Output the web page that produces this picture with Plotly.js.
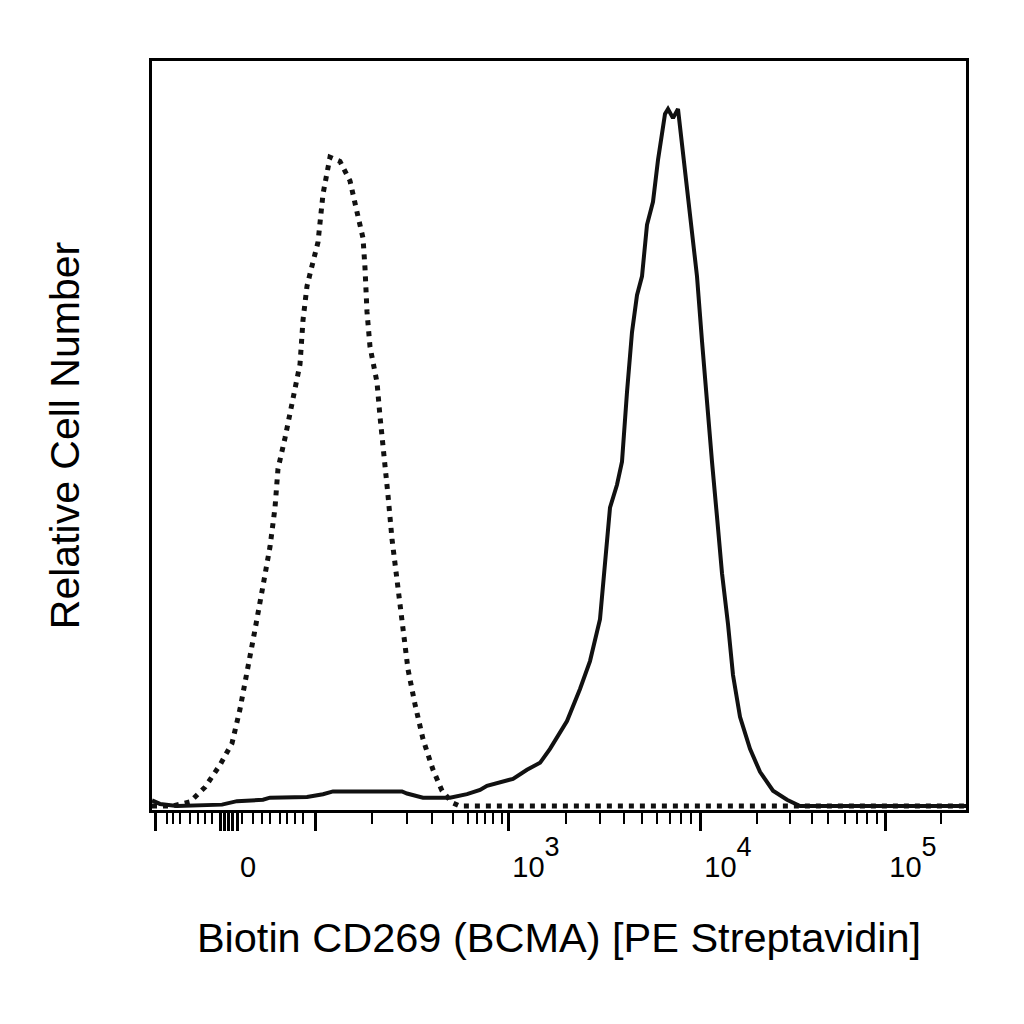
<!DOCTYPE html>
<html>
<head>
<meta charset="utf-8">
<script src="https://cdn.plot.ly/plotly-3.0.1.min.js"></script>
<style>
  html, body { margin: 0; padding: 0; background: #fff; }
  #chart { width: 1024px; height: 1024px; }
</style>
</head>
<body>
<div id="chart"></div>
<script>
// x values are display channels of the biexponential PE axis (0 = left edge of plot)
// y values are relative cell counts, stained peak = 100

// isotype / unstained control (dotted)
const controlX = [0, 20, 38, 53, 68, 80, 88, 95, 103, 111, 118, 123, 126, 133, 141, 148, 151, 155, 160, 166, 171, 178,
    188, 198, 206, 211, 213, 215, 218, 225, 228, 231, 236, 240, 245, 251, 256, 263, 271, 281, 290, 300, 308, 814];
const controlY = [0, 0, 0.6, 2.7, 5.9, 9.0, 13.9, 18.9, 25.3, 31.6, 37.2, 42.8, 48.4, 52.8, 58.4, 63.4, 69.7, 74.6, 77.5, 80.9, 87.8, 93.1,
    92.5, 89.7, 84.6, 81.5, 77.2, 70.9, 65.9, 60.8, 55.9, 50.9, 44.6, 38.3, 32.1, 25.8, 19.6, 14.6, 9.6, 5.2, 2.2, 0.5, 0, 0];

// Biotin CD269 (BCMA) + PE streptavidin (solid)
const stainedX = [0, 8, 25, 70, 85, 111, 118, 155, 171, 181, 250, 255, 271, 298, 315, 328, 335, 361, 375, 388, 398, 415, 428,
    438, 448, 453, 458, 465, 470, 475, 480, 485, 490, 495, 501, 506, 513, 516, 521, 526, 531, 538, 545, 550, 555, 560, 565,
    570, 576, 581, 588, 598, 608, 621, 635, 648, 814];
const stainedY = [0.8, 0.3, 0, 0.2, 0.7, 0.9, 1.2, 1.3, 1.7, 2.1, 2.1, 1.8, 1.2, 1.2, 1.7, 2.3, 2.9, 3.9, 5.2, 6.2, 8.2, 12.2, 16.8,
    20.8, 26.8, 34.7, 42.8, 46.1, 49.4, 59.4, 68.0, 73.3, 76.0, 83.4, 86.7, 92.7, 99.3, 100, 98.7, 100, 94, 85.4, 76, 66.7, 57.4, 49.4, 41.5,
    33.4, 26.1, 18.8, 12.8, 8.2, 4.9, 2.2, 0.9, 0, 0];

// axis ticks (channel positions)
const big = t => '<span style="font-size:29px">' + t + '</span>';
const sup = d => big('10') + '<sup><sup><span style="font-size:27px">' + d + '</span></sup></sup>';
const majorTicks = [3, 68, 72, 76, 80, 85, 163, 356, 548, 733];
const majorLabels = ['', big('0'), '', '', '', '', '', sup(3), sup(4), sup(5)];
const minorTicks = [15, 21, 28, 38, 46, 53, 60, 90, 101, 110, 118, 128, 135, 143, 151,
    220, 255, 280, 301, 316, 325, 333, 341, 350,
    414, 448, 472, 490, 505, 518, 529, 539,
    605, 638, 660, 676, 693, 705, 715, 725, 789];

const fontFam = '"Liberation Sans", Arial, sans-serif';

const traces = [
    {
        x: controlX, y: controlY, type: 'scatter', mode: 'lines',
        line: { color: '#111', width: 5, dash: '5px,6px' },
        name: 'Control', hoverinfo: 'skip'
    },
    {
        x: stainedX, y: stainedY, type: 'scatter', mode: 'lines',
        line: { color: '#111', width: 4 },
        name: 'Biotin CD269', hoverinfo: 'skip'
    }
];

const layout = {
    width: 1024, height: 1024,
    margin: { l: 152, r: 58, t: 61, b: 214 },
    paper_bgcolor: '#fff', plot_bgcolor: '#fff',
    showlegend: false,
    font: { family: fontFam, color: '#000' },
    xaxis: {
        range: [0, 814], showgrid: false, zeroline: false,
        showline: true, linecolor: '#000', linewidth: 3, mirror: true,
        tickmode: 'array', tickvals: majorTicks, ticktext: majorLabels,
        ticks: 'outside', ticklen: 18, tickwidth: 3, tickcolor: '#000',
        ticklabelshift: 28, ticklabelstandoff: 11,
        tickfont: { size: 29, family: fontFam, color: '#000' },
        minor: { tickmode: 'array', tickvals: minorTicks, ticks: 'outside', ticklen: 11, tickwidth: 2, tickcolor: '#000', showgrid: false },
        title: { text: 'Biotin CD269 (BCMA) [PE Streptavidin]', font: { size: 41.5, family: fontFam, color: '#000' }, standoff: 42 }
    },
    yaxis: {
        range: [-0.57, 106.9], showgrid: false, zeroline: false,
        showline: true, linecolor: '#000', linewidth: 3, mirror: true,
        ticks: '', showticklabels: false,
        title: { text: 'Relative Cell Number', font: { size: 41, family: fontFam, color: '#000' }, standoff: 57 }
    }
};

Plotly.newPlot('chart', traces, layout, { displayModeBar: false, staticPlot: true });
</script>
</body>
</html>
